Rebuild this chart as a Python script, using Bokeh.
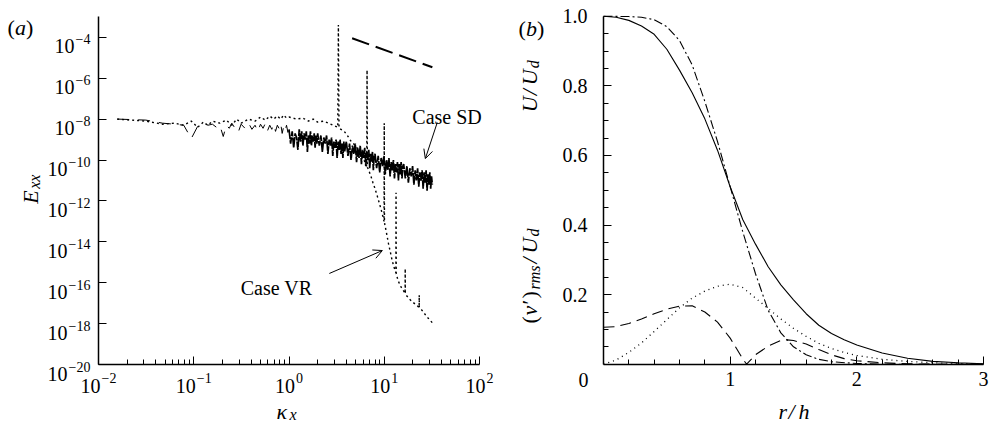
import math
from bokeh.plotting import figure
from bokeh.layouts import row
from bokeh.models import (Range1d, FixedTicker, Label, Arrow, OpenHead,
                          CustomJSTickFormatter, PrintfTickFormatter)
from bokeh.embed import file_html
from bokeh.resources import INLINE

FONT = "Liberation Serif"
INK = "black"

# ---------------- panel (a): spectra E_xx(kappa_x) ----------------
# Case SD, low wavenumbers (log10 E)
sd_k_low = [0.0157, 0.0314, 0.0471, 0.0628, 0.0785, 0.0942, 0.110, 0.126, 0.141, 0.157,
            0.173, 0.188, 0.204, 0.220, 0.236, 0.251, 0.267, 0.283, 0.298, 0.314,
            0.345, 0.377, 0.408, 0.440, 0.471, 0.502, 0.534, 0.565, 0.597, 0.628,
            0.660, 0.691, 0.722, 0.754, 0.785, 0.817, 0.848, 0.880, 0.911, 0.942, 0.974]
sd_logE_low = [-8.00, -8.05, -8.20, -8.25, -8.30, -8.95, -8.35, -8.20, -8.30, -8.25,
               -8.40, -8.30, -8.85, -8.30, -8.45, -8.20, -8.40, -8.30, -8.55, -8.25,
               -8.45, -8.20, -8.50, -8.30, -8.60, -8.25, -8.45, -8.20, -8.55, -8.30,
               -8.50, -8.25, -8.60, -8.30, -8.45, -8.20, -8.70, -8.35, -8.55, -8.30, -8.65]
# Case SD, high wavenumbers (noisy band)
sd_k_high = [1.00, 1.04, 1.08, 1.12, 1.16, 1.20, 1.24, 1.28, 1.32, 1.36, 1.40, 1.44, 1.48,
             1.52, 1.56, 1.60, 1.64, 1.68, 1.72, 1.76, 1.80, 1.84, 1.88, 1.92, 1.96,
             2.00, 2.08, 2.16, 2.24, 2.32, 2.40, 2.48, 2.56, 2.64, 2.72, 2.80, 2.88, 2.96,
             3.04, 3.12, 3.20, 3.28, 3.36, 3.44, 3.52, 3.60, 3.68, 3.76, 3.84, 3.92,
             4.00, 4.16, 4.32, 4.48, 4.64, 4.80, 4.96, 5.12, 5.28, 5.44, 5.60, 5.76, 5.92,
             6.08, 6.24, 6.40, 6.56, 6.72, 6.88, 7.04, 7.20, 7.36, 7.52, 7.68, 7.84,
             8.00, 8.32, 8.64, 8.96, 9.28, 9.60, 9.92, 10.24, 10.56, 10.88, 11.20, 11.52, 11.84,
             12.16, 12.48, 12.80, 13.12, 13.44, 13.76, 14.08, 14.40, 14.72, 15.04, 15.36, 15.68,
             16.00, 16.64, 17.28, 17.92, 18.56, 19.20, 19.84, 20.48, 21.12, 21.76, 22.40, 23.04,
             23.68, 24.32, 24.96, 25.60, 26.24, 26.88, 27.52, 28.16, 28.80, 29.44, 30.08, 30.72,
             31.36, 32.00]
sd_logE_high = [-8.5, -9.2, -8.6, -9.4, -8.7, -8.9, -9.5, -8.5, -9.1, -8.6, -9.3, -8.7, -9.0,
                -8.6, -9.6, -8.8, -9.2, -8.6, -9.3, -8.8, -9.1, -8.7, -9.4, -8.8, -9.2,
                -8.7, -9.3, -8.8, -9.6, -8.9, -9.2, -8.8, -9.7, -9.0, -9.3, -8.9, -9.8, -9.1,
                -9.4, -9.0, -9.9, -9.1, -9.5, -9.0, -9.7, -9.2, -9.9, -9.1, -9.6, -9.3,
                -9.1, -9.8, -9.2, -10.0, -9.3, -9.7, -9.2, -10.1, -9.4, -9.9, -9.3, -10.2, -9.5,
                -9.9, -9.4, -10.3, -9.6, -10.0, -9.5, -10.4, -9.7, -10.1, -9.6, -10.5, -9.8,
                -9.7, -10.4, -9.8, -10.6, -9.9, -10.3, -9.8, -10.7, -10.0, -10.5, -9.9, -10.8, -10.1,
                -10.5, -10.0, -10.9, -10.2, -10.6, -10.1, -11.0, -10.2, -10.7, -10.1, -10.9, -10.3,
                -10.2, -10.9, -10.3, -11.1, -10.4, -10.8, -10.3, -11.2, -10.5, -11.0, -10.4, -11.3,
                -10.6, -11.0, -10.5, -11.4, -10.6, -11.1, -10.5, -11.5, -10.7, -11.2, -10.6, -11.4,
                -10.8, -11.2]
# Case VR (log10 E), with forcing harmonics
vr_k = [0.0157, 0.0314, 0.0471, 0.0628, 0.0785, 0.0942, 0.110, 0.126, 0.141, 0.157,
        0.188, 0.220, 0.251, 0.283, 0.314, 0.377, 0.440, 0.502, 0.565, 0.628,
        0.691, 0.754, 0.817, 0.880, 0.942, 1.00, 1.20, 1.40, 1.60, 1.80,
        2.00, 2.30, 2.60, 2.90, 3.25, 3.30, 3.35, 3.80, 4.10, 4.50,
        5.00, 5.50, 6.00, 6.40, 6.55, 6.60, 6.65, 6.80, 7.20, 7.60,
        8.00, 8.50, 9.00, 9.50, 9.95, 10.0, 10.05, 10.6, 11.1, 11.6,
        12.1, 12.6, 13.25, 13.3, 13.35, 14.0, 15.0, 16.0, 16.55, 16.6,
        16.65, 17.0, 18.5, 20.0, 22.0, 23.25, 23.3, 23.35, 24.5, 26.0,
        28.0, 30.0, 32.0]
vr_logE = [-8.0, -8.1, -8.25, -8.2, -8.3, -8.1, -8.4, -8.15, -8.3, -8.1,
           -8.2, -8.05, -8.3, -8.0, -8.2, -8.0, -8.1, -7.9, -8.05, -7.85,
           -8.0, -7.85, -8.0, -7.8, -7.95, -7.9, -8.0, -7.95, -8.1, -8.0,
           -8.15, -8.1, -8.2, -8.3, -8.4, -3.4, -8.45, -8.6, -8.8, -9.1,
           -9.3, -9.6, -9.9, -10.2, -10.3, -5.6, -10.35, -10.45, -10.75, -11.1,
           -11.4, -11.8, -12.2, -12.6, -13.0, -8.2, -13.05, -13.6, -14.1, -14.5,
           -14.9, -15.2, -15.5, -11.6, -15.55, -15.9, -16.2, -16.4, -16.5, -15.3,
           -16.5, -16.6, -16.8, -16.95, -17.1, -17.2, -16.6, -17.2, -17.3, -17.45,
           -17.65, -17.8, -17.95]
# reference slope line
slope_k = [4.6, 32.0]
slope_logE = [-4.05, -5.47]

a_xtick_exp = [-2, -1, 0, 1, 2]
a_ytick_exp = [-4, -6, -8, -10, -12, -14, -16, -18, -20]

# annotations: [k, log10 E] for text anchors, and arrows [k0, logE0, k1, logE1]
sd_note = [19.7, -7.92]
sd_arrow = [36.0, -8.17, 27.0, -9.93]
vr_note = [0.311, -16.23]
vr_arrow = [2.65, -15.54, 9.55, -14.42]

# ---------------- panel (b): radial profiles ----------------
r_u_sd = [0.0, 0.1, 0.2, 0.3, 0.4, 0.5, 0.6, 0.7, 0.8, 0.9, 1.0, 1.1, 1.2, 1.3, 1.4,
          1.5, 1.6, 1.7, 1.8, 1.9, 2.0, 2.2, 2.4, 2.6, 2.8, 3.0]
u_sd = [1.0, 0.997, 0.988, 0.972, 0.948, 0.905, 0.845, 0.78, 0.705, 0.615, 0.51, 0.415,
        0.345, 0.28, 0.228, 0.185, 0.145, 0.112, 0.088, 0.07, 0.055, 0.032, 0.017, 0.008,
        0.004, 0.001]
r_u_vr = [0.0, 0.2, 0.3, 0.4, 0.5, 0.6, 0.7, 0.8, 0.9, 1.0, 1.1, 1.2, 1.3, 1.4, 1.5,
          1.6, 1.7, 1.8, 2.0, 2.2, 2.6, 3.0]
u_vr = [1.0, 0.999, 0.997, 0.99, 0.97, 0.93, 0.86, 0.755, 0.64, 0.51, 0.38, 0.26, 0.155,
        0.09, 0.05, 0.027, 0.014, 0.007, 0.002, 0.0, 0.0, 0.0]
r_v_vr = [0.0, 0.1, 0.2, 0.3, 0.4, 0.5, 0.6, 0.7, 0.8, 0.9, 1.0, 1.1, 1.2, 1.3, 1.4,
          1.5, 1.6, 1.7, 1.8, 1.9, 2.0, 2.2, 2.4, 2.6, 2.8, 3.0]
v_vr = [0.0, 0.012, 0.034, 0.061, 0.094, 0.128, 0.162, 0.19, 0.21, 0.224, 0.23, 0.22,
        0.19, 0.16, 0.13, 0.103, 0.08, 0.06, 0.045, 0.034, 0.025, 0.014, 0.008, 0.004,
        0.002, 0.001]
r_v_sd = [0.0, 0.1, 0.2, 0.3, 0.4, 0.5, 0.6, 0.7, 0.8, 0.9, 1.0, 1.05, 1.1, 1.13, 1.2,
          1.3, 1.4, 1.45, 1.5, 1.6, 1.7, 1.8, 1.9, 2.0, 2.2, 2.4, 2.6, 3.0]
v_sd = [0.106, 0.108, 0.117, 0.13, 0.145, 0.158, 0.167, 0.168, 0.15, 0.121, 0.075, 0.045,
        0.015, 0.0, 0.027, 0.052, 0.068, 0.07, 0.068, 0.058, 0.042, 0.027, 0.016, 0.01,
        0.004, 0.001, 0.0, 0.0]
b_xticks = [1, 2, 3]
b_yticks = [0.2, 0.4, 0.6, 0.8, 1.0]


def span(lo, hi, p_lo, p_hi, total):
    """Range whose value lo sits p_lo px and hi sits p_hi px from the canvas start."""
    s = (hi - lo) / (p_hi - p_lo)
    return lo - p_lo * s, hi + (total - p_hi) * s


def style_axes(p):
    for ax in (p.xaxis[0], p.yaxis[0]):
        ax.axis_line_width = 1.5
        ax.axis_line_color = INK
        ax.major_tick_in = 8
        ax.major_tick_out = 0
        ax.minor_tick_in = 5
        ax.minor_tick_out = 0
        ax.major_tick_line_width = 1
        ax.minor_tick_line_width = 1
        ax.major_tick_line_color = INK
        ax.minor_tick_line_color = INK
        ax.major_label_text_font = FONT
        ax.major_label_text_font_size = "20px"
        ax.major_label_text_color = INK
    p.xgrid.visible = False
    p.ygrid.visible = False
    p.outline_line_color = None
    p.background_fill_color = "white"
    p.border_fill_color = "white"


def pieces(p, x, y, parts, dx, dy, rotate=False):
    """parts: (text, size_px, italic, advance_px, drop_px)"""
    pos = 0.0
    for text, size, italic, adv, drop in parts:
        kw = dict(x=x, y=y, text=text, text_font=FONT, text_font_size=f"{size}px",
                  text_font_style="italic" if italic else "normal", text_color=INK,
                  text_align="left", text_baseline="alphabetic")
        if rotate:
            kw.update(angle=math.pi / 2, x_offset=dx + drop, y_offset=dy + pos)
        else:
            kw.update(x_offset=dx + pos, y_offset=dy - drop)
        p.add_layout(Label(**kw))
        pos += adv


def power_label(p, x, y, exp, dy, right=None):
    e = str(exp).replace("-", "\u2212")
    ew = 7.9 * e.count("\u2212") + 7.0 * (len(e) - e.count("\u2212"))
    total = 20 + 1 + ew
    start = (right - total) if right is not None else -total / 2
    pieces(p, x, y, [("10", 20, False, 21, 0), (e, 14, False, ew, -7.5)], start, dy)


# ---------------- figure (a) ----------------
WA, WB, H = 500, 492, 424
ax_lo, ax_hi = span(-2, 2, 98, 479, WA)
ay_lo, ay_hi = span(-20, -3, H - 364.3, H - 16.2, H)
pa = figure(width=WA, height=H, x_axis_type="log", y_axis_type="log",
            x_range=Range1d(10 ** ax_lo, 10 ** ax_hi), y_range=Range1d(10 ** ay_lo, 10 ** ay_hi),
            output_backend="svg", toolbar_location=None,
            min_border_left=0, min_border_right=0, min_border_top=0, min_border_bottom=0)
style_axes(pa)
pa.xaxis.fixed_location = 1e-20
pa.yaxis.fixed_location = 1e-2
pa.xaxis.bounds = (1e-2, 1e2)
pa.yaxis.bounds = (1e-20, 1e-3)
pa.xaxis.ticker = FixedTicker(ticks=[10.0 ** e for e in a_xtick_exp],
                              minor_ticks=[m * 10.0 ** e for e in a_xtick_exp[:-1] for m in range(2, 10)])
pa.yaxis.ticker = FixedTicker(ticks=[10.0 ** e for e in a_ytick_exp], minor_ticks=[])
pa.xaxis.formatter = CustomJSTickFormatter(code="return ''")
pa.yaxis.formatter = CustomJSTickFormatter(code="return ''")

sd_low_E = [10.0 ** v for v in sd_logE_low + [sd_logE_high[0]]]
pa.line(sd_k_low + [sd_k_high[0]], sd_low_E, line_color=INK, line_width=1, line_dash="12 9")
pa.line(sd_k_high, [10.0 ** v for v in sd_logE_high], line_color=INK, line_width=1.7,
        line_dash="10 1")
pa.line(vr_k, [10.0 ** v for v in vr_logE], line_color=INK, line_width=1.4,
        line_dash="2 3")
pa.line(slope_k, [10.0 ** v for v in slope_logE], line_color=INK, line_width=2,
        line_dash="18 7")

for e in a_ytick_exp:
    power_label(pa, 1e-2, 10.0 ** e, e, dy=-9.3, right=-8)
for e in a_xtick_exp:
    power_label(pa, 10.0 ** e, 1e-20, e, dy=-21)

pa.add_layout(Label(x=sd_note[0], y=10.0 ** sd_note[1], text="Case SD", text_font=FONT,
                    text_font_size="20px", text_color=INK, text_baseline="alphabetic"))
pa.add_layout(Label(x=vr_note[0], y=10.0 ** vr_note[1], text="Case VR", text_font=FONT,
                    text_font_size="20px", text_color=INK, text_baseline="alphabetic"))
for arr in (sd_arrow, vr_arrow):
    pa.add_layout(Arrow(x_start=arr[0], y_start=10.0 ** arr[1], x_end=arr[2],
                        y_end=10.0 ** arr[3], line_width=1, line_color=INK,
                        end=OpenHead(size=9, line_width=1, line_color=INK)))

# axis titles and panel tag (a)
pieces(pa, 1e-2, 1e-20, [("\u03ba", 22, True, 13, 0), ("x", 16, True, 8, 3)], 178, -46.7)
pieces(pa, 1e-2, 1e-20, [("E", 22, True, 15, 0), ("xx", 16, True, 15, 4)], -68, 161,
       rotate=True)
pieces(pa, 1e-2, 1e-3, [("(", 22, False, 7.5, 0), ("a", 22, True, 11, 0),
                        (")", 22, False, 7.5, 0)], -91, -10.8)

# ---------------- figure (b) ----------------
bx_lo, bx_hi = span(0, 3, 103, 483, WB)
by_lo, by_hi = span(0, 1, H - 363.7, H - 15.7, H)
pb = figure(width=WB, height=H, x_range=Range1d(bx_lo, bx_hi), y_range=Range1d(by_lo, by_hi),
            output_backend="svg", toolbar_location=None,
            min_border_left=0, min_border_right=0, min_border_top=0, min_border_bottom=0)
style_axes(pb)
pb.xaxis.fixed_location = 0
pb.yaxis.fixed_location = 0
pb.xaxis.bounds = (0, 3)
pb.yaxis.bounds = (0, 1)
pb.xaxis.ticker = FixedTicker(ticks=b_xticks,
                              minor_ticks=[0.2 * i for i in range(1, 15) if i % 5])
pb.yaxis.ticker = FixedTicker(ticks=b_yticks,
                              minor_ticks=[0.05 * i for i in range(1, 20) if i % 4])
pb.yaxis.formatter = PrintfTickFormatter(format="%.1f")
pb.xaxis.formatter = PrintfTickFormatter(format="%d")
pb.yaxis.major_label_standoff = 16
pb.xaxis.major_label_standoff = 8

pb.line(r_u_sd, u_sd, line_color=INK, line_width=1.1)
pb.line(r_u_vr, u_vr, line_color=INK, line_width=1.1, line_dash="9 3 2 3")
pb.line(r_v_vr, v_vr, line_color=INK, line_width=1.3, line_dash="1 4")
pb.line(r_v_sd, v_sd, line_color=INK, line_width=1.1, line_dash="11 6")

pb.add_layout(Label(x=0, y=0, text="0", text_font=FONT, text_font_size="20px",
                    text_color=INK, text_align="center", text_baseline="alphabetic",
                    x_offset=-20, y_offset=-16))
pieces(pb, 0, 0, [("r", 22, True, 10, 0), ("/", 22, True, 10, 0), ("h", 22, True, 12, 0)],
       175, -47.3)
pieces(pb, 0, 0, [("U", 22, True, 17, 0), ("/", 22, True, 10, 0), ("U", 22, True, 17, 0),
                  ("d", 16, True, 8, 4)], -74, 252, rotate=True)
pieces(pb, 0, 0, [("(", 22, False, 8, 0), ("v", 22, True, 11, 0), ("\u2032", 22, False, 6, 0),
                  (")", 22, False, 9, 0), ("rms", 16, True, 26, 5), ("/", 22, True, 10, 0),
                  ("U", 22, True, 17, 0), ("d", 16, True, 8, 4)], -74, 40.7, rotate=True)
pieces(pb, 0, 1.0, [("(", 22, False, 7.5, 0), ("b", 22, True, 11, 0),
                    (")", 22, False, 7.5, 0)], -85, -12.3)

layout = row(pa, pb)
open("out.html", "w").write(file_html(layout, INLINE))
